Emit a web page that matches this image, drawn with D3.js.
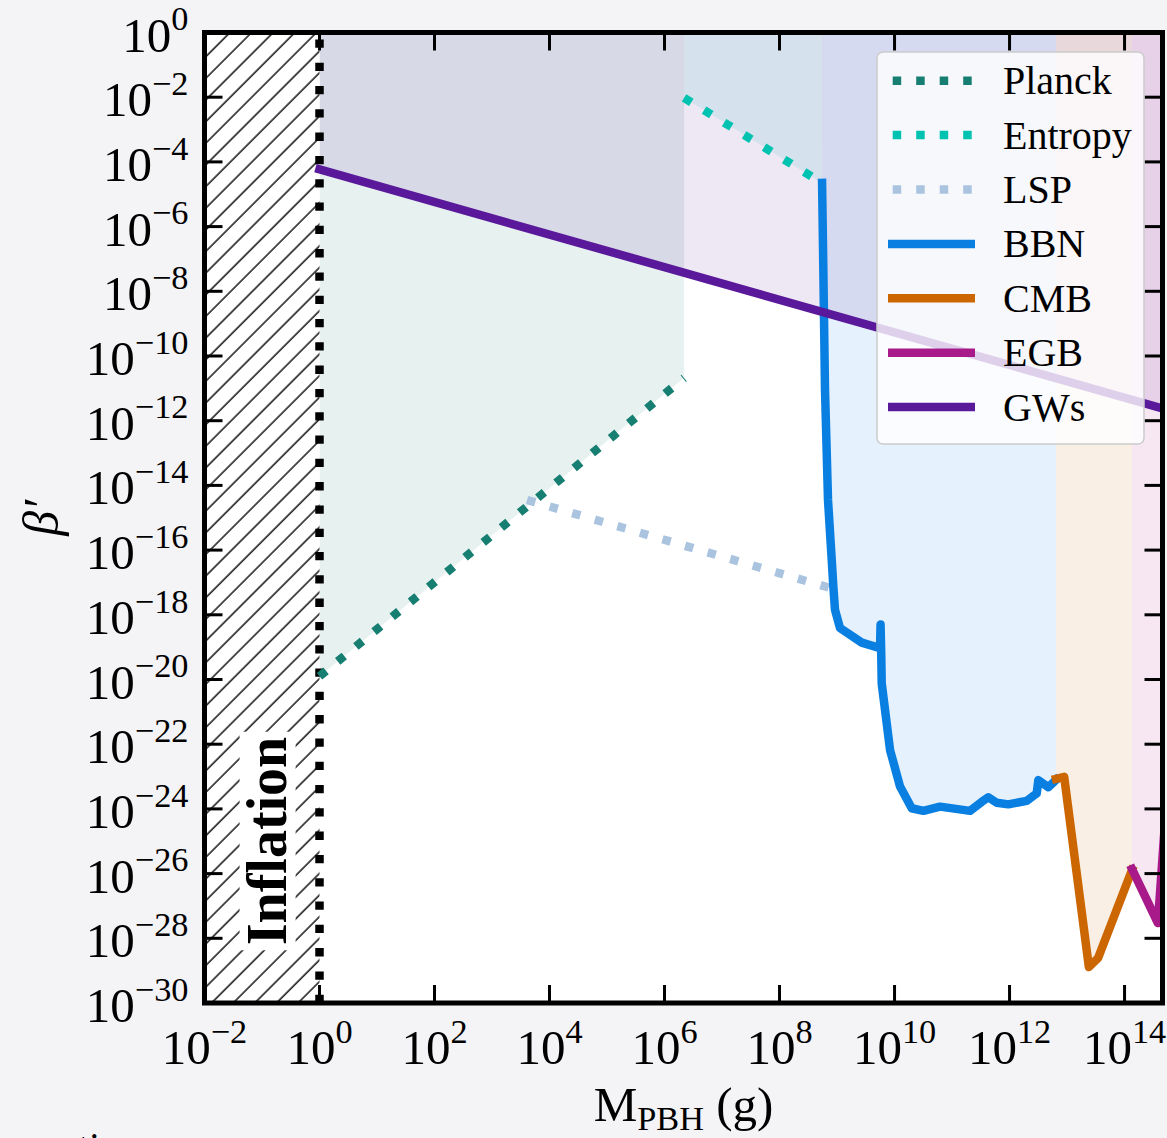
<!DOCTYPE html>
<html>
<head>
<meta charset="utf-8">
<script src="https://cdn.jsdelivr.net/npm/d3@7"></script>
<style>
html, body { margin: 0; padding: 0; background: #f4f4f6; }
svg { display: block; }
text { font-family: "Liberation Serif", "DejaVu Serif", serif; fill: #000; }
</style>
</head>
<body>
<div id="chart"></div>
<script>
// All values are log10: [log10(M_PBH / g), log10(beta')]
const xTickExps = [-2, 0, 2, 4, 6, 8, 10, 12, 14];
const yTickExps = [0, -2, -4, -6, -8, -10, -12, -14, -16, -18, -20, -22, -24, -26, -28, -30];
const xDomainExp = [-2, 14.66];
const yDomainExp = [-30, 0];
const inflationEdgeExp = 0;

const planck = [[0, -19.9], [6.34, -10.68]];
const entropy = [[6.34, -2.02], [8.74, -4.65]];
const lsp = [[3.61, -14.45], [8.88, -17.17]];
const bbn = [
    [8.74, -4.65], [8.757, -6.72], [8.791, -11.05], [8.843, -14.45], [8.908, -16.31],
    [8.936, -17.13], [8.965, -17.85], [9.052, -18.41], [9.43, -18.86], [9.748, -19.03],
    [9.757, -18.30], [9.769, -19.24], [9.777, -20.12], [9.922, -22.18], [10.096, -23.31],
    [10.299, -23.98], [10.501, -24.06], [10.792, -23.93], [11.313, -24.06], [11.517, -23.78],
    [11.631, -23.64], [11.777, -23.81], [11.979, -23.86], [12.299, -23.75], [12.473, -23.52],
    [12.501, -23.11], [12.675, -23.33], [12.81, -23.1]
];
const cmb = [[12.81, -23.07], [12.95, -23.01], [13.38, -28.89], [13.54, -28.61], [14.13, -25.89]];
const egb = [[14.13, -25.86], [14.58, -27.53], [14.70, -24.5]];
const gws = [[0, -4.23], [14.66, -11.62]];

const legendNames = ["Planck", "Entropy", "LSP", "BBN", "CMB", "EGB", "GWs"];

// styles
const colors = {
    Planck: "#177e72", Entropy: "#00c2b0", LSP: "#aac4e0", BBN: "#0a7fe2",
    CMB: "#cc6600", EGB: "#a8198a", GWs: "#5a189a"
};
const dotted = { Planck: true, Entropy: true, LSP: true };

const W = 1167, H = 1138;
const margin = { top: 32.5, right: 4.5, bottom: 135, left: 204.5 };
const lw = 8.5;

const svg = d3.select("#chart").append("svg")
    .attr("width", W)
    .attr("height", H);

svg.append("rect").attr("width", W).attr("height", H).attr("fill", "#f4f4f6");

const x = d3.scaleLog().domain(xDomainExp.map(e => Math.pow(10, e))).range([margin.left, W - margin.right]);
const y = d3.scaleLog().domain(yDomainExp.map(e => Math.pow(10, e))).range([H - margin.bottom, margin.top]);
const px = d => x(Math.pow(10, d[0]));
const py = d => y(Math.pow(10, d[1]));

const x0 = x.range()[0], x1 = x.range()[1];
const yTop = y.range()[1], yBot = y.range()[0];

const defs = svg.append("defs");
defs.append("clipPath").attr("id", "plotClip")
    .append("rect").attr("x", x0).attr("y", yTop).attr("width", x1 - x0).attr("height", yBot - yTop);

// hatch for inflation region
const hatch = defs.append("pattern")
    .attr("id", "hatch")
    .attr("patternUnits", "userSpaceOnUse")
    .attr("width", 15.3).attr("height", 15.3)
    .attr("patternTransform", "rotate(45)");
hatch.append("line")
    .attr("x1", 2).attr("x2", 2).attr("y1", 0).attr("y2", 15.3)
    .attr("stroke", "#000").attr("stroke-width", 1.4);

// plot background
svg.append("rect")
    .attr("x", x0).attr("y", yTop).attr("width", x1 - x0).attr("height", yBot - yTop)
    .attr("fill", "#fff");

const plot = svg.append("g").attr("clip-path", "url(#plotClip)");

// shaded exclusion regions (from curve up to the top of the axes)
const area = d3.area().x(px).y0(yTop).y1(py);
const fills = [["Planck", planck], ["Entropy", entropy], ["BBN", bbn], ["CMB", cmb], ["EGB", egb], ["GWs", gws]];
fills.forEach(function (f) {
    plot.append("path")
        .attr("d", area(f[1]))
        .attr("fill", colors[f[0]])
        .attr("fill-opacity", 0.105)
        .attr("stroke", "none");
});

// inflation region
const infl = plot.append("g");
infl.append("rect")
    .attr("x", x0).attr("y", yTop)
    .attr("width", x(Math.pow(10, inflationEdgeExp)) - x0).attr("height", yBot - yTop)
    .attr("fill", "#fff");
infl.append("rect")
    .attr("x", x0).attr("y", yTop)
    .attr("width", x(Math.pow(10, inflationEdgeExp)) - x0).attr("height", yBot - yTop)
    .attr("fill", "url(#hatch)");

const inflLabel = infl.append("g")
    .attr("transform", "translate(" + ((x0 + x(Math.pow(10, inflationEdgeExp))) / 2 + 4) + "," + (yBot - 162) + ") rotate(-90)");
const inflText = inflLabel.append("text")
    .attr("text-anchor", "middle")
    .attr("dy", "0.35em")
    .attr("font-size", 56)
    .attr("font-weight", "bold")
    .text("Inflation");
const bb = inflText.node().getBBox();
inflLabel.insert("rect", "text")
    .attr("x", bb.x - 5).attr("y", bb.y + 4)
    .attr("width", bb.width + 10).attr("height", bb.height - 6)
    .attr("fill", "#fff");

// black dotted boundary at M = 1 g
infl.append("line")
    .attr("x1", x(Math.pow(10, inflationEdgeExp))).attr("x2", x(Math.pow(10, inflationEdgeExp)))
    .attr("y1", yBot).attr("y2", yTop)
    .attr("stroke", "#000").attr("stroke-width", lw)
    .attr("stroke-dasharray", "8.3,15");

// constraint curves
const line = d3.line().x(px).y(py);
const curves = { Planck: planck, Entropy: entropy, LSP: lsp, BBN: bbn, CMB: cmb, EGB: egb, GWs: gws };
legendNames.forEach(function (name) {
    const p = plot.append("path")
        .attr("d", line(curves[name]))
        .attr("fill", "none")
        .attr("stroke", colors[name])
        .attr("stroke-width", lw)
        .attr("stroke-linejoin", "round");
    if (dotted[name]) {
        p.attr("stroke-dasharray", "8.5,15").attr("stroke-linecap", "butt");
    } else {
        p.attr("stroke-linecap", "square");
    }
});

// ticks (inward, all four sides)
const tickLen = 18;
const ticks = svg.append("g").attr("stroke", "#000").attr("stroke-width", 3);
xTickExps.forEach(function (e) {
    const xx = x(Math.pow(10, e));
    ticks.append("line").attr("x1", xx).attr("x2", xx).attr("y1", yBot).attr("y2", yBot - tickLen);
    ticks.append("line").attr("x1", xx).attr("x2", xx).attr("y1", yTop).attr("y2", yTop + tickLen);
});
yTickExps.forEach(function (e) {
    const yy = y(Math.pow(10, e));
    ticks.append("line").attr("x1", x0).attr("x2", x0 + tickLen).attr("y1", yy).attr("y2", yy);
    ticks.append("line").attr("x1", x1).attr("x2", x1 - tickLen).attr("y1", yy).attr("y2", yy);
});

// spines
svg.append("rect")
    .attr("x", x0).attr("y", yTop).attr("width", x1 - x0).attr("height", yBot - yTop)
    .attr("fill", "none").attr("stroke", "#000").attr("stroke-width", 5);

// tick labels
function powLabel(t, e) {
    t.append("tspan").text("10");
    t.append("tspan")
        .attr("font-size", "0.7em")
        .attr("dy", "-0.62em")
        .text(e < 0 ? "\u2212" + (-e) : String(e));
}
const tickFont = 49;
xTickExps.forEach(function (e) {
    const t = svg.append("text")
        .attr("x", x(Math.pow(10, e)))
        .attr("y", yBot + 61)
        .attr("text-anchor", "middle")
        .attr("font-size", tickFont);
    powLabel(t, e);
});
yTickExps.forEach(function (e) {
    const t = svg.append("text")
        .attr("x", x0 - 16)
        .attr("y", y(Math.pow(10, e)) + 19)
        .attr("text-anchor", "end")
        .attr("font-size", tickFont);
    powLabel(t, e);
});

// axis labels
const xl = svg.append("text")
    .attr("x", (x0 + x1) / 2)
    .attr("y", yBot + 118)
    .attr("text-anchor", "middle")
    .attr("font-size", 49);
xl.append("tspan").text("M");
xl.append("tspan").attr("font-size", "0.7em").attr("dy", "0.25em").text("PBH");
xl.append("tspan").attr("dy", "-0.175em").text(" (g)");

svg.append("text")
    .attr("transform", "translate(58," + ((yTop + yBot) / 2) + ") rotate(-90)")
    .attr("text-anchor", "middle")
    .attr("font-size", 50)
    .attr("font-style", "italic")
    .text("\u03b2\u2032");

// legend
const lg = svg.append("g").attr("transform", "translate(877,52)");
lg.append("rect")
    .attr("width", 267).attr("height", 392).attr("rx", 6)
    .attr("fill", "#fff").attr("fill-opacity", 0.8)
    .attr("stroke", "#cccccc").attr("stroke-width", 1.5);
legendNames.forEach(function (name, i) {
    const cy = 28.7 + i * 54.4;
    const l = lg.append("line")
        .attr("x1", 11).attr("x2", 98)
        .attr("y1", cy).attr("y2", cy)
        .attr("stroke", colors[name])
        .attr("stroke-width", lw);
    if (dotted[name]) {
        l.attr("stroke-dasharray", "8.5,15").attr("stroke-dashoffset", -4.7);
    }
    lg.append("text")
        .attr("x", 126)
        .attr("y", cy + 13.5)
        .attr("font-size", 40)
        .text(name);
});

// fragment of caption text below the figure (cut off in the original too)
svg.append("text")
    .attr("x", 78)
    .attr("y", 1160)
    .attr("font-size", 40)
    .text("ti");
</script>
</body>
</html>
